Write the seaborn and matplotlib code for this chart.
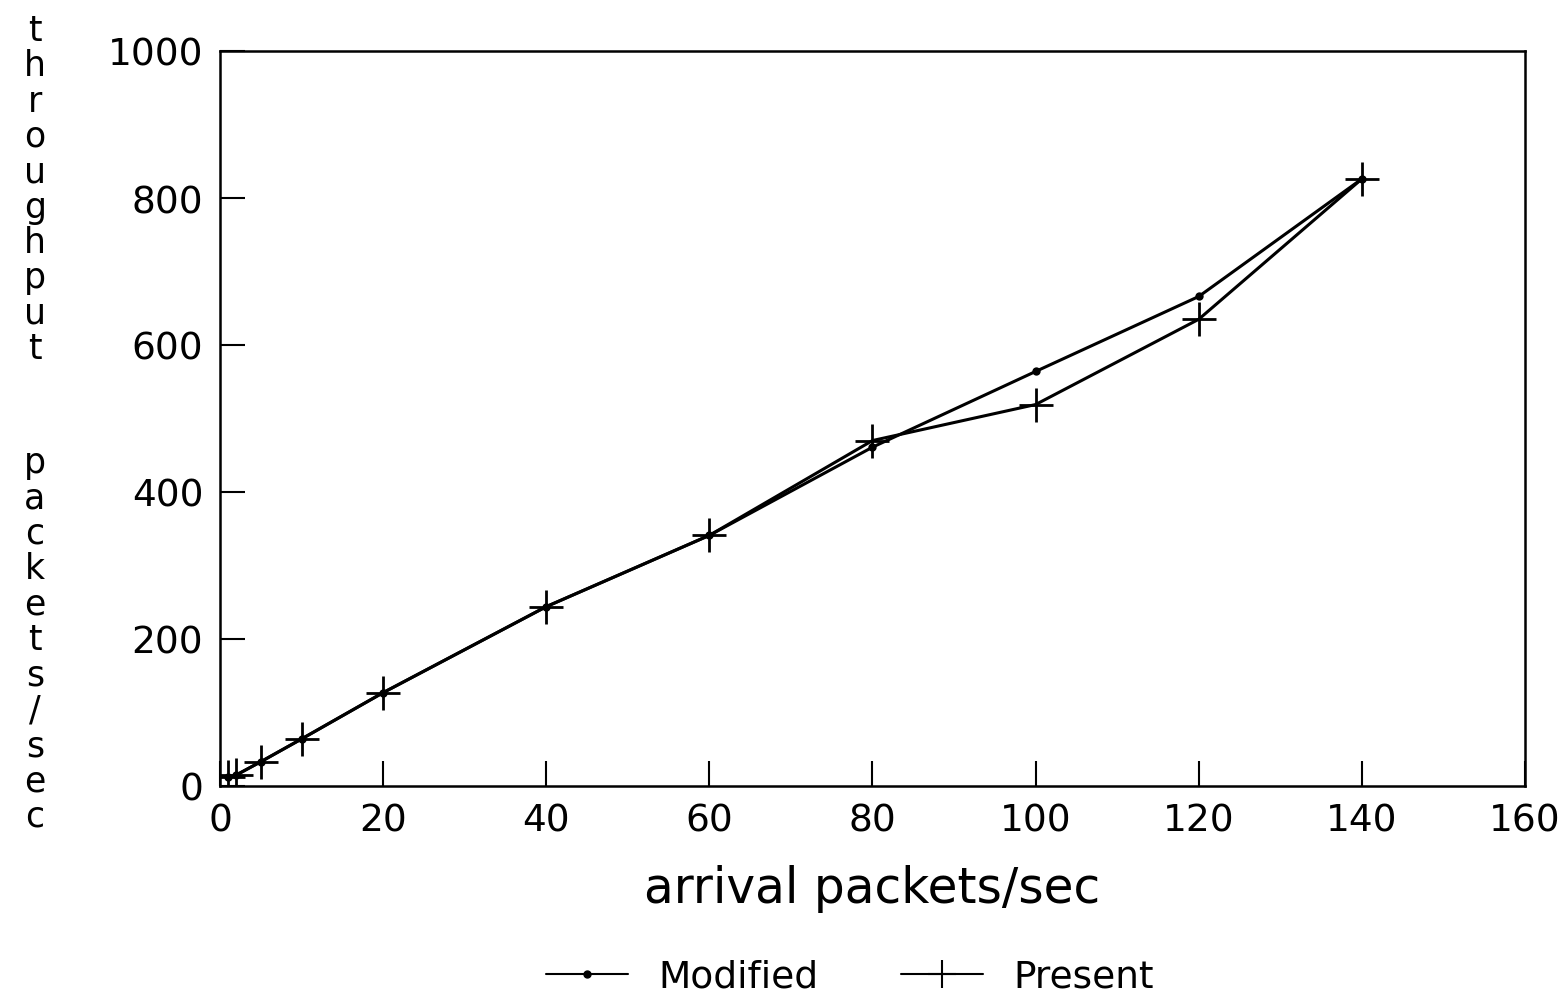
import numpy as np
import pandas as pd
import matplotlib
matplotlib.use("Agg")
import matplotlib.pyplot as plt
import seaborn as sns
from matplotlib.lines import Line2D

arrival = [1, 2, 5, 10, 20, 40, 60, 80, 100, 120, 140]
modified = [12, 15, 33, 64, 127, 244, 341, 461, 564, 666, 826]
present = [12, 15, 33, 64, 127, 244, 341, 470, 519, 635, 826]

sns.set_theme(style="white")
plt.rcParams['font.family'] = ['DejaVu Sans']
plt.rcParams['text.color'] = 'black'
plt.rcParams['axes.labelcolor'] = 'black'

fig = plt.figure(figsize=(15.68, 10.04), dpi=100)
ax = fig.add_axes([220/1568, 1 - 787/1004, (1525-220)/1568, (787-52)/1004])

sns.lineplot(x=arrival, y=modified, color="black", marker="o", markersize=6,
             markeredgewidth=0, linewidth=2.2, ax=ax)
sns.lineplot(x=arrival, y=present, color="black", marker="+", markersize=24,
             markeredgewidth=2, markeredgecolor="black", linewidth=2.2, ax=ax)

ax.set_xlim(0, 160)
ax.set_ylim(0, 1000)
ax.set_xticks([0, 20, 40, 60, 80, 100, 120, 140, 160])
ax.set_yticks([0, 200, 400, 600, 800, 1000])
ax.tick_params(axis="both", direction="in", length=18, width=1.5,
               labelsize=27, pad=12, colors="black")
ax.tick_params(top=False, right=False, bottom=True, left=True)
for s in ax.spines.values():
    s.set_color("black")
    s.set_linewidth(1.8)
ax.set_xlabel("arrival packets/sec", fontsize=35, labelpad=18, color="black")
ax.set_ylabel("")

fig.text(35/1568, 1 - 190/1004, "\n".join("throughput"), ha="center", va="center",
         fontsize=25, linespacing=1.05, color="black")
fig.text(35/1568, 1 - 640/1004, "\n".join("packets/sec"), ha="center", va="center",
         fontsize=25, linespacing=1.05, color="black")

handles = [Line2D([], [], color="black", marker="o", markersize=5, linewidth=1.5),
           Line2D([], [], color="black", marker="+", markersize=20, markeredgewidth=1.5, linewidth=1.5)]
leg = fig.legend(handles, ["Modified", "Present"], loc="center", bbox_to_anchor=(0.542, 1 - 978/1004),
                 ncol=2, frameon=False, fontsize=27, handlelength=2.2, columnspacing=2.2)
for t in leg.get_texts():
    t.set_color("black")

fig.savefig("out.png", dpi=100, facecolor="white")
